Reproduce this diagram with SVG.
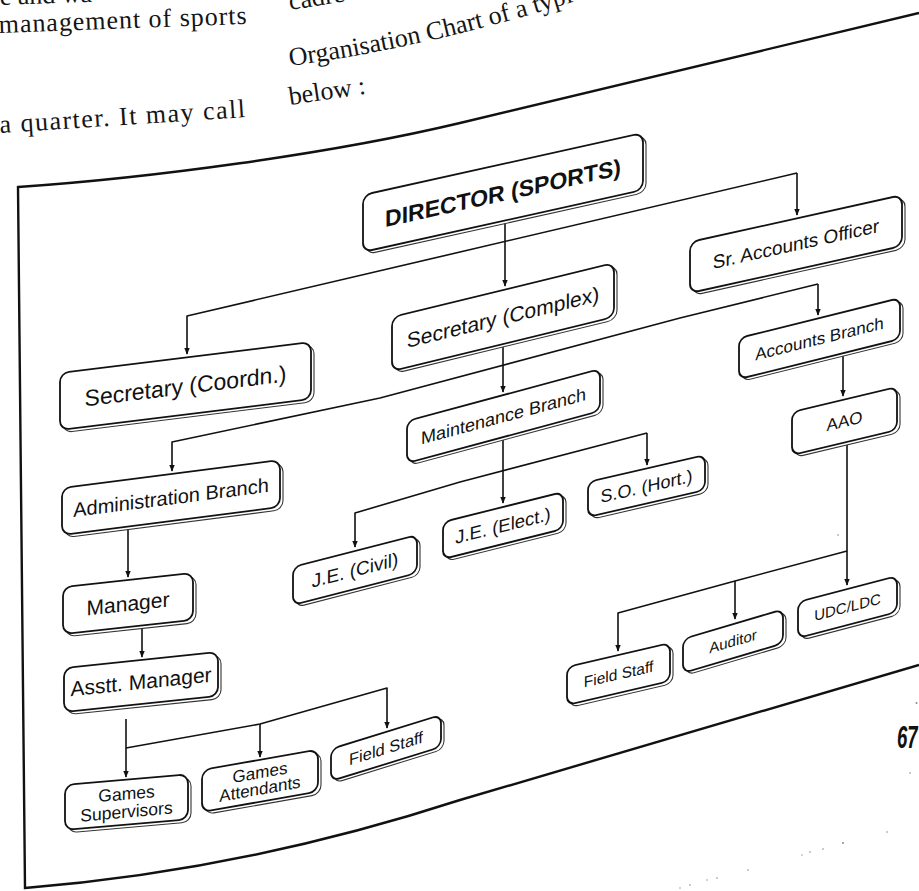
<svg xmlns="http://www.w3.org/2000/svg" width="919" height="891" viewBox="0 0 919 891">
  <defs>
    <marker id="arr" viewBox="0 0 10 10" refX="9" refY="5" markerWidth="7" markerHeight="7" markerUnits="userSpaceOnUse" orient="auto">
      <path d="M0,1 L10,5 L0,9 z" fill="#111"/>
    </marker>
    <path id="orgline" d="M290,66 Q450,44 615,-12" fill="none"/>
  </defs>
  <style>
    .page{font-family:"Liberation Serif","Times New Roman",serif;font-size:26px;fill:#151515}
    .frame{fill:none;stroke:#111;stroke-width:2.4;stroke-linejoin:miter}
    .box{fill:#fff;stroke:#111;stroke-width:1.8}
    .shadow{fill:#fff;stroke:#333;stroke-width:1.1}
    .lbl{font-family:"Liberation Sans",Arial,sans-serif;fill:#111;text-anchor:middle}
    .link{fill:none;stroke:#111;stroke-width:1.6;stroke-linejoin:round}
    .speck{fill:#888}
  </style>
  <rect width="919" height="891" fill="#fff"/>

  <!-- running text of the page -->
  <g id="page-text" class="page">
    <text x="0" y="5" transform="rotate(-2 0 5)">e and wa</text>
    <text x="-1" y="33" transform="rotate(-2.1 -1 33)" textLength="248">management of sports</text>
    <text x="0" y="133" transform="rotate(-3.7 0 133)" textLength="246">a quarter. It may call</text>
    <text x="290" y="10" transform="rotate(-9 290 10)">cadre</text>
    <text><textPath href="#orgline">Organisation Chart of a typical p</textPath></text>
    <text x="290" y="105" transform="rotate(-8.5 290 105)">below :</text>
  </g>
  <text id="page-number" transform="translate(897,748) scale(0.58,1)" font-family="Liberation Sans, Arial, sans-serif" font-size="32" font-weight="bold" font-style="italic" fill="#111">67</text>

  <!-- frame around the chart -->
  <path class="frame" d="M919,13 L460,123 C330,154 150,178 18,187 L25,888 C150,878 300,852 460,800 L919,665"/>

  <!-- connectors -->
  <g id="connectors" class="link">
    <path d="M505,222 L505,286" marker-end="url(#arr)"/>
    <path d="M797,173 L187,316 L187,354" marker-end="url(#arr)"/>
    <path d="M797,173 L797,215" marker-end="url(#arr)"/>
    <path d="M818,284 L680,318 L380,398 L172,442 L172,471" marker-end="url(#arr)"/>
    <path d="M818,284 L818,315" marker-end="url(#arr)"/>
    <path d="M503,344 L503,392" marker-end="url(#arr)"/>
    <path d="M843,354 L843,396" marker-end="url(#arr)"/>
    <path d="M503,437 L503,503" marker-end="url(#arr)"/>
    <path d="M647,433 L460,482 L355,513 L355,547" marker-end="url(#arr)"/>
    <path d="M647,433 L647,465" marker-end="url(#arr)"/>
    <path d="M847,442 L847,585" marker-end="url(#arr)"/>
    <path d="M847,551 L735,581 L618,613 L618,651" marker-end="url(#arr)"/>
    <path d="M735,581 L735,619" marker-end="url(#arr)"/>
    <path d="M128,527 L128,577" marker-end="url(#arr)"/>
    <path d="M142,626 L142,657" marker-end="url(#arr)"/>
    <path d="M126,719 L126,777" marker-end="url(#arr)"/>
    <path d="M126,748 L260,724 L387,688 L387,728" marker-end="url(#arr)"/>
    <path d="M260,724 L260,757" marker-end="url(#arr)"/>
  </g>

  <!-- nodes -->
  <g id="director" transform="translate(363,195) skewY(-12.49)">
    <rect class="shadow" x="3" y="3" width="280" height="57" rx="9"/>
    <rect class="box" width="280" height="57" rx="9"/>
    <text class="lbl" x="140" y="37" font-size="23" font-weight="bold">DIRECTOR (SPORTS)</text>
  </g>
  <g id="secretary-coordn" transform="translate(60,373) skewY(-7.04)">
    <rect class="shadow" x="3" y="3" width="251" height="57" rx="9"/>
    <rect class="box" width="251" height="57" rx="9"/>
    <text class="lbl" x="125.5" y="36.5" font-size="23">Secretary (Coordn.)</text>
  </g>
  <g id="secretary-complex" transform="translate(392,317) skewY(-13.67)">
    <rect class="shadow" x="3" y="3" width="222" height="54" rx="9"/>
    <rect class="box" width="222" height="54" rx="9"/>
    <text class="lbl" x="111" y="34.5" font-size="21">Secretary (Complex)</text>
  </g>
  <g id="sr-accounts-officer" transform="translate(690,242) skewY(-12.5)">
    <rect class="shadow" x="3" y="3" width="212" height="51" rx="9"/>
    <rect class="box" width="212" height="51" rx="9"/>
    <text class="lbl" x="106" y="32" font-size="19">Sr. Accounts Officer</text>
  </g>
  <g id="accounts-branch" transform="translate(739,338) skewY(-13.95)">
    <rect class="shadow" x="3" y="3" width="161" height="41" rx="8"/>
    <rect class="box" width="161" height="41" rx="8"/>
    <text class="lbl" x="80.5" y="26.5" font-size="17">Accounts Branch</text>
  </g>
  <g id="aao" transform="translate(792,412) skewY(-13.4)">
    <rect class="shadow" x="3" y="3" width="105" height="43" rx="8"/>
    <rect class="box" width="105" height="43" rx="8"/>
    <text class="lbl" x="52.5" y="27.5" font-size="17">AAO</text>
  </g>
  <g id="maintenance-branch" transform="translate(407,421) skewY(-15.08)">
    <rect class="shadow" x="3" y="3" width="193" height="42" rx="8"/>
    <rect class="box" width="193" height="42" rx="8"/>
    <text class="lbl" x="96.5" y="27.3" font-size="18">Maintenance Branch</text>
  </g>
  <g id="administration-branch" transform="translate(62,488) skewY(-7.32)">
    <rect class="shadow" x="3" y="3" width="218" height="47" rx="9"/>
    <rect class="box" width="218" height="47" rx="9"/>
    <text class="lbl" x="109" y="30.5" font-size="20">Administration Branch</text>
  </g>
  <g id="manager" transform="translate(63,587) skewY(-6.15)">
    <rect class="shadow" x="3" y="3" width="130" height="47" rx="9"/>
    <rect class="box" width="130" height="47" rx="9"/>
    <text class="lbl" x="65" y="31" font-size="21">Manager</text>
  </g>
  <g id="asstt-manager" transform="translate(64,668) skewY(-5.93)">
    <rect class="shadow" x="3" y="3" width="154" height="44" rx="9"/>
    <rect class="box" width="154" height="44" rx="9"/>
    <text class="lbl" x="77" y="29" font-size="21">Asstt. Manager</text>
  </g>
  <g id="je-civil" transform="translate(293,567) skewY(-14.47)">
    <rect class="shadow" x="3" y="3" width="124" height="38" rx="8"/>
    <rect class="box" width="124" height="38" rx="8"/>
    <text class="lbl" x="62" y="25.6" font-size="19">J.E. (Civil)</text>
  </g>
  <g id="je-elect" transform="translate(443,522) skewY(-14.04)">
    <rect class="shadow" x="3" y="3" width="120" height="37" rx="8"/>
    <rect class="box" width="120" height="37" rx="8"/>
    <text class="lbl" x="60" y="25" font-size="18.5">J.E. (Elect.)</text>
  </g>
  <g id="so-hort" transform="translate(588,482) skewY(-13)">
    <rect class="shadow" x="3" y="3" width="117" height="35" rx="8"/>
    <rect class="box" width="117" height="35" rx="8"/>
    <text class="lbl" x="58.5" y="24" font-size="18">S.O. (Hort.)</text>
  </g>
  <g id="field-staff-accounts" transform="translate(567,667) skewY(-13.1)">
    <rect class="shadow" x="3" y="3" width="103" height="38" rx="8"/>
    <rect class="box" width="103" height="38" rx="8"/>
    <text class="lbl" x="51.5" y="24.5" font-size="15.5">Field Staff</text>
  </g>
  <g id="auditor" transform="translate(683,639) skewY(-16.5)">
    <rect class="shadow" x="3" y="3" width="100" height="34" rx="8"/>
    <rect class="box" width="100" height="34" rx="8"/>
    <text class="lbl" x="50" y="22.3" font-size="15">Auditor</text>
  </g>
  <g id="udc-ldc" transform="translate(798,602) skewY(-14.7)">
    <rect class="shadow" x="3" y="3" width="99" height="36" rx="8"/>
    <rect class="box" width="99" height="36" rx="8"/>
    <text class="lbl" x="49.5" y="23.3" font-size="15">UDC/LDC</text>
  </g>
  <g id="games-supervisors" transform="translate(65,785) skewY(-5)">
    <rect class="shadow" x="3" y="3" width="123" height="45" rx="9"/>
    <rect class="box" width="123" height="45" rx="9"/>
    <text class="lbl" x="61.5" y="20" font-size="17.5">Games</text>
    <text class="lbl" x="61.5" y="38" font-size="17.5">Supervisors</text>
  </g>
  <g id="games-attendants" transform="translate(202,770) skewY(-10)">
    <rect class="shadow" x="3" y="3" width="116" height="42" rx="9"/>
    <rect class="box" width="116" height="42" rx="9"/>
    <text class="lbl" x="58" y="18.5" font-size="17">Games</text>
    <text class="lbl" x="58" y="35" font-size="17">Attendants</text>
  </g>
  <g id="field-staff-games" transform="translate(331,749) skewY(-17.2)">
    <rect class="shadow" x="3" y="3" width="110" height="32" rx="8"/>
    <rect class="box" width="110" height="32" rx="8"/>
    <text class="lbl" x="55" y="22" font-size="16.5">Field Staff</text>
  </g>

  <!-- stray specks of the print -->
  <g id="specks" class="speck">
    <circle cx="916.5" cy="703" r="1"/>
    <circle cx="910" cy="773" r="0.8"/>
    <circle cx="838" cy="535" r="0.8"/>
    <circle cx="887" cy="832" r="0.8"/>
    <circle cx="843" cy="843" r="1"/>
    <circle cx="823" cy="849" r="0.8"/>
    <circle cx="810" cy="852" r="0.8"/>
    <circle cx="802" cy="855" r="0.7"/>
    <circle cx="748" cy="870" r="0.8"/>
    <circle cx="717" cy="878" r="0.8"/>
    <circle cx="707" cy="880" r="0.7"/>
    <circle cx="690" cy="885" r="0.8"/>
    <circle cx="680" cy="888" r="0.7"/>
  </g>
</svg>
